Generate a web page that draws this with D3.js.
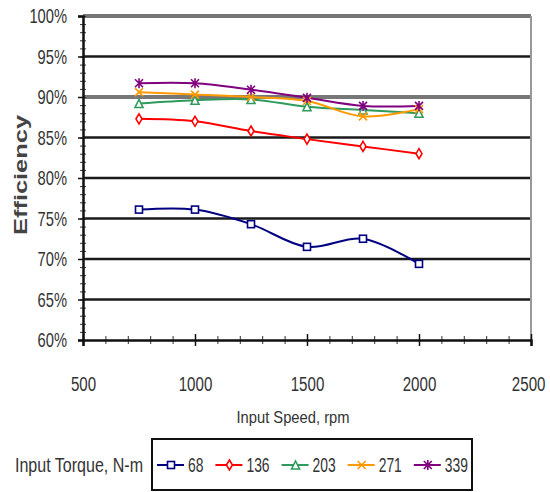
<!DOCTYPE html>
<html>
<head>
<meta charset="utf-8">
<script src="https://cdn.jsdelivr.net/npm/d3@7"></script>
<style>
  body { margin: 0; background: #fff; }
  text { font-family: "Liberation Sans", Arial, sans-serif; fill: #333; }
</style>
</head>
<body>
<svg class="chart" width="550" height="492"></svg>
<script>
// Data
const speeds = [750, 1000, 1250, 1500, 1750, 2000];
const torques = ["68", "136", "203", "271", "339"];
const eff68 = [76.1, 76.1, 74.3, 71.5, 72.5, 69.4];
const eff136 = [87.3, 87.0, 85.8, 84.8, 83.9, 83.0];
const eff203 = [89.2, 89.6, 89.7, 88.8, 88.4, 88.0];
const eff271 = [90.6, 90.3, 90.0, 89.5, 87.6, 88.5];
const eff339 = [91.7, 91.7, 90.9, 89.9, 88.9, 88.9];
const xTicks = [500, 1000, 1500, 2000, 2500];
const yTicks = [60, 65, 70, 75, 80, 85, 90, 95, 100];

const colors = ["#000080", "#ff0000", "#2e9a5c", "#ff9900", "#800080"];
const markers = ["square", "diamond", "triangle", "cross", "star"];

const series = [eff68, eff136, eff203, eff271, eff339].map((vals, i) => ({
  name: torques[i],
  color: colors[i],
  marker: markers[i],
  values: vals.map((v, j) => ({ x: speeds[j], y: v })),
}));

const margin = { top: 16, right: 19, bottom: 152, left: 83 };
const width = 550 - margin.left - margin.right;
const height = 492 - margin.top - margin.bottom;

const svg = d3.select(".chart");
const g = svg.append("g").attr("transform", `translate(${margin.left},${margin.top})`);

const x = d3.scaleLinear().domain([500, 2500]).range([0, width]);
const y = d3.scaleLinear().domain([60, 100]).range([height, 0]);

// squeeze text horizontally (the original uses a narrow font)
function condense(sel, k) {
  sel.each(function () {
    const len = this.getComputedTextLength();
    d3.select(this).attr("textLength", len * k).attr("lengthAdjust", "spacingAndGlyphs");
  });
}

// gridlines
g.selectAll(".grid")
  .data(yTicks.filter((d) => d > 60))
  .enter()
  .append("line")
  .attr("x1", 0)
  .attr("x2", width)
  .attr("y1", (d) => y(d))
  .attr("y2", (d) => y(d))
  .attr("stroke", (d) => (d === 100 || d === 90 ? "#777" : "#1a1a1a"))
  .attr("stroke-width", (d) => (d === 100 || d === 90 ? 4 : 2.5));

// right border
g.append("line")
  .attr("x1", width).attr("x2", width)
  .attr("y1", 0).attr("y2", height)
  .attr("stroke", "#999").attr("stroke-width", 2);

// minor ticks
g.append("g")
  .attr("transform", `translate(0,${height})`)
  .call(d3.axisBottom(x).tickValues(d3.range(500, 2501, 100)).tickSize(4).tickFormat(""))
  .call((a) => a.select(".domain").remove())
  .selectAll("line").attr("stroke", "#333").attr("transform", "translate(0,-4)").attr("y2", 8);

g.append("g")
  .call(d3.axisLeft(y).tickValues(d3.range(60, 101, 1)).tickSize(3).tickFormat(""))
  .call((a) => a.select(".domain").remove())
  .selectAll("line").attr("stroke", "#333").attr("x2", 3).attr("x1", -3);

// x axis
const xAxis = g.append("g")
  .attr("transform", `translate(0,${height})`)
  .call(d3.axisBottom(x).tickValues(xTicks).tickSize(6).tickPadding(30).tickFormat(d3.format("d")));
xAxis.select(".domain").attr("stroke", "#111").attr("stroke-width", 2.5);
xAxis.selectAll(".tick line").attr("stroke", "#111").attr("stroke-width", 1.5).attr("y1", -6);
// scale instead of textLength so the box of the last label stays honest
xAxis.selectAll("text").style("font-size", "21px").style("fill", "#333").attr("transform", "scale(0.72,1)");
xAxis.selectAll("text").filter((d) => d === 2500).attr("dx", "-4");

// y axis
const yAxis = g.append("g")
  .call(d3.axisLeft(y).tickValues(yTicks).tickSize(5).tickPadding(11).tickFormat((d) => d + "%"));
yAxis.select(".domain").attr("stroke", "#111").attr("stroke-width", 2.5);
yAxis.selectAll(".tick line").attr("stroke", "#111").attr("stroke-width", 1.5);
yAxis.selectAll("text").style("font-size", "21px").style("fill", "#333").call(condense, 0.7);

// axis titles
svg.append("text")
  .attr("x", 293)
  .attr("y", 423)
  .attr("text-anchor", "middle")
  .style("font-size", "17px")
  .attr("textLength", 113)
  .attr("lengthAdjust", "spacingAndGlyphs")
  .text("Input Speed, rpm");

svg.append("text")
  .attr("transform", "translate(27,175) rotate(-90)")
  .attr("text-anchor", "middle")
  .style("font-size", "18px")
  .style("font-weight", "bold")
  .style("fill", "#444")
  .attr("textLength", 120)
  .attr("lengthAdjust", "spacingAndGlyphs")
  .text("Efficiency");

// marker drawing
function drawMarker(sel, type, color) {
  const s = 4;
  if (type === "square") {
    sel.append("rect").attr("x", -s + 0.5).attr("y", -s + 0.5).attr("width", 2 * s - 1).attr("height", 2 * s - 1)
      .attr("fill", "#fff").attr("stroke", color).attr("stroke-width", 1.6);
  } else if (type === "diamond") {
    sel.append("path").attr("d", `M0,${-s - 1}L${s - 1},0L0,${s + 1}L${-s + 1},0Z`)
      .attr("fill", "#fff").attr("stroke", color).attr("stroke-width", 1.6);
  } else if (type === "triangle") {
    sel.append("path").attr("d", `M0,${-s}L${s},${s}L${-s},${s}Z`)
      .attr("fill", "#fff").attr("stroke", color).attr("stroke-width", 1.6);
  } else if (type === "cross") {
    sel.append("path").attr("d", `M${-s},${-s}L${s},${s}M${s},${-s}L${-s},${s}`)
      .attr("stroke", color).attr("stroke-width", 1.6);
  } else {
    sel.append("path").attr("d", `M${-s},${-s}L${s},${s}M${s},${-s}L${-s},${s}M0,${-s - 1}L0,${s + 1}`)
      .attr("stroke", color).attr("stroke-width", 1.6);
  }
}

// lines
const line = d3.line()
  .x((d) => x(d.x))
  .y((d) => y(d.y))
  .curve(d3.curveCatmullRom.alpha(0.5));

series.forEach((s) => {
  g.append("path")
    .datum(s.values)
    .attr("fill", "none")
    .attr("stroke", s.color)
    .attr("stroke-width", 2)
    .attr("d", line);
});

series.forEach((s) => {
  g.selectAll(null)
    .data(s.values)
    .enter()
    .append("g")
    .attr("transform", (d) => `translate(${x(d.x)},${y(d.y)})`)
    .each(function () { drawMarker(d3.select(this), s.marker, s.color); });
});

// legend
svg.append("text")
  .attr("x", 15)
  .attr("y", 472)
  .style("font-size", "20px")
  .attr("textLength", 128)
  .attr("lengthAdjust", "spacingAndGlyphs")
  .text("Input Torque, N-m");

const legend = svg.append("g").attr("transform", "translate(152,439)");
legend.append("rect")
  .attr("width", 320).attr("height", 51)
  .attr("fill", "#fff").attr("stroke", "#111").attr("stroke-width", 2);

const items = legend.selectAll(".item")
  .data(series)
  .enter()
  .append("g")
  .attr("class", "item");

items.append("line").attr("x1", 0).attr("x2", 27).attr("stroke", (d) => d.color).attr("stroke-width", 2);
items.append("g").attr("transform", "translate(14,0)").each(function (d) { drawMarker(d3.select(this), d.marker, d.color); });
items.append("text").attr("x", 31).attr("y", 7).style("font-size", "21px").text((d) => d.name).call(condense, 0.66);

// lay the legend entries out one after another
let pos = 5;
items.each(function () {
  const item = d3.select(this);
  item.attr("transform", `translate(${pos},26)`);
  pos += 31 + +item.select("text").attr("textLength") + 12;
});
</script>
</body>
</html>
